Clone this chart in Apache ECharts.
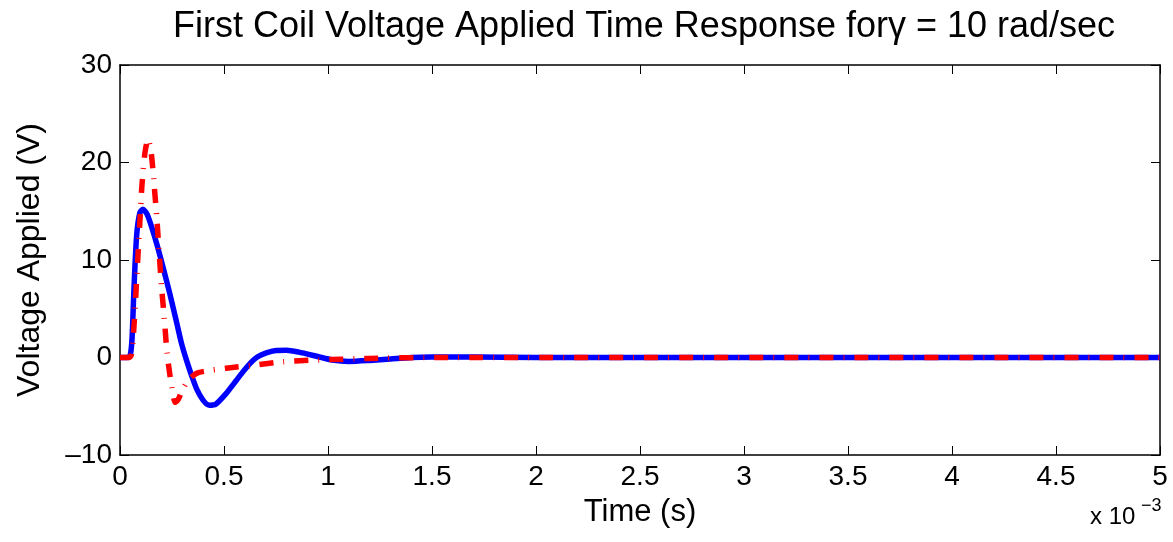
<!DOCTYPE html>
<html>
<head>
<meta charset="utf-8">
<script src="https://cdn.jsdelivr.net/npm/echarts@6/dist/echarts.min.js"></script>
<style>
  html, body { margin: 0; padding: 0; background: #fff; }
  #chart { width: 1173px; height: 542px; }
</style>
</head>
<body>
<div id="chart"></div>
<script>
// time in units of 1e-3 s (axis shows "x 10^-3")
const blueTime = [0, 0.04, 0.05, 0.058, 0.067, 0.08, 0.095, 0.11, 0.13, 0.155, 0.18, 0.21, 0.24, 0.27, 0.295, 0.32, 0.345, 0.37, 0.40, 0.43, 0.46, 0.51, 0.55, 0.59, 0.63, 0.66, 0.70, 0.75, 0.80, 0.86, 0.95, 1.02, 1.1, 1.2, 1.3, 1.4, 1.5, 1.7, 2.0, 5.0];
const blueVolt = [0, 0, 0.3, 2, 7, 12.5, 14.8, 15.2, 14.7, 13.2, 11.4, 9.0, 6.5, 3.8, 1.5, -0.3, -1.9, -3.3, -4.4, -4.9, -4.8, -3.7, -2.6, -1.5, -0.5, 0.05, 0.45, 0.72, 0.75, 0.55, 0.1, -0.25, -0.4, -0.3, -0.15, 0, 0.05, 0.05, 0, 0];

const redTime = [0, 0.045, 0.055, 0.065, 0.075, 0.087, 0.097, 0.105, 0.12, 0.135, 0.15, 0.165, 0.178, 0.19, 0.2, 0.213, 0.226, 0.24, 0.25, 0.265, 0.28, 0.30, 0.33, 0.37, 0.44, 0.51, 0.64, 0.78, 0.95, 1.2, 1.5, 5.0];
const redVolt = [0, 0, 0.3, 2.5, 6, 10.7, 14.5, 17.5, 21, 22.4, 21, 17.5, 14, 10.2, 7.2, 4, 0.5, -1.8, -3, -4.6, -4.3, -3.3, -2.3, -1.6, -1.3, -1.1, -0.8, -0.45, -0.25, -0.1, 0, 0];

const xTicks = [0, 0.5, 1, 1.5, 2, 2.5, 3, 3.5, 4, 4.5, 5];
const yTicks = [-10, 0, 10, 20, 30];

const titleText = 'First Coil Voltage Applied Time Response for\u03b3 = 10 rad/sec';

const font = '"Liberation Sans", Arial, sans-serif';

function pairs(xs, ys){
  return xs.map((x, i) => [x, ys[i]]);
}

const tickStyle = { show: true, inside: true, length: 9, lineStyle: { color: '#000', width: 1 } };
const lineStyle = { show: true, onZero: false, lineStyle: { color: '#000', width: 1.5 } };

const chart = echarts.init(document.getElementById('chart'), null, { renderer: 'canvas' });

chart.setOption({
  animation: false,
  backgroundColor: '#fff',
  title: {
    text: titleText,
    left: 168,
    top: 4,
    textStyle: { fontFamily: font, fontSize: 36, fontWeight: 'normal', color: '#000' }
  },
  grid: { left: 120, right: 13, top: 65, bottom: 87, containLabel: false },
  xAxis: [
    {
      type: 'value', min: 0, max: 5, interval: 0.5,
      name: 'Time (s)', nameLocation: 'middle', nameGap: 42,
      nameTextStyle: { fontFamily: font, fontSize: 31, color: '#000' },
      axisLine: lineStyle, axisTick: tickStyle,
      axisLabel: { fontFamily: font, fontSize: 28, color: '#000', margin: 8,
        formatter: v => xTicks.indexOf(v) >= 0 ? String(v) : '' },
      splitLine: { show: false }
    },
    {
      type: 'value', min: 0, max: 5, interval: 0.5, position: 'top',
      axisLine: lineStyle, axisTick: tickStyle, axisLabel: { show: false }, splitLine: { show: false }
    }
  ],
  yAxis: [
    {
      type: 'value', min: -10, max: 30, interval: 10,
      name: 'Voltage Applied (V)', nameLocation: 'middle', nameGap: 74,
      nameTextStyle: { fontFamily: font, fontSize: 32, color: '#000' },
      axisLine: lineStyle, axisTick: tickStyle,
      axisLabel: { fontFamily: font, fontSize: 28, color: '#000', margin: 8,
        formatter: v => yTicks.indexOf(v) >= 0 ? (v < 0 ? '\u2013' + Math.abs(v) : String(v)) : '' },
      splitLine: { show: false }
    },
    {
      type: 'value', min: -10, max: 30, interval: 10, position: 'right',
      axisLine: lineStyle, axisTick: tickStyle, axisLabel: { show: false }, splitLine: { show: false }
    }
  ],
  graphic: [
    {
      type: 'text', left: 1090, top: 505,
      style: { text: 'x 10', fontFamily: font, fontSize: 24, fill: '#000' }
    },
    {
      type: 'text', left: 1141, top: 497,
      style: { text: '\u22123', fontFamily: font, fontSize: 18, fill: '#000' }
    }
  ],
  series: [
    {
      type: 'line', name: 'blue', data: pairs(blueTime, blueVolt),
      showSymbol: false, smooth: 0.25, z: 2,
      lineStyle: { color: '#0000ff', width: 5.5 }
    },
    {
      type: 'line', name: 'red', data: pairs(redTime, redVolt),
      showSymbol: false, smooth: 0.25, z: 3,
      lineStyle: { color: '#ff0000', width: 5.5, type: [14, 10, 1, 10], cap: 'butt' }
    }
  ]
});
</script>
</body>
</html>
